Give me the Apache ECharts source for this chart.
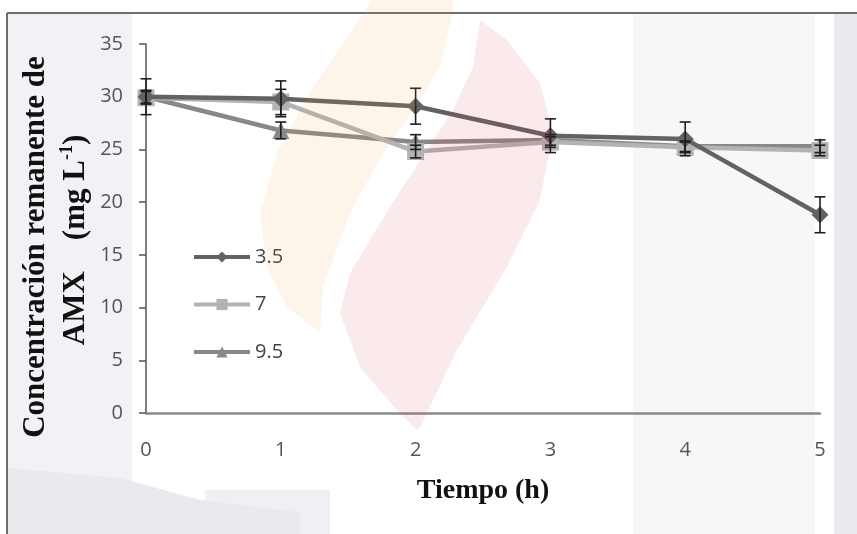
<!DOCTYPE html>
<html>
<head>
<meta charset="utf-8">
<script src="https://cdn.jsdelivr.net/npm/echarts@6/dist/echarts.min.js"></script>
<style>html,body{margin:0;padding:0;background:#fff;}#c{width:857px;height:534px;}</style>
</head>
<body>
<div id="c"></div>
<script>
const times = [0, 1, 2, 3, 4, 5];
const yTicks = [0, 5, 10, 15, 20, 25, 30, 35];
const seriesNames = ['3.5', '7', '9.5'];
const values35 = [30.0, 29.8, 29.1, 26.3, 26.0, 18.8];
const values7 = [29.9, 29.5, 24.8, 25.7, 25.2, 24.9];
const values95 = [30.0, 26.8, 25.7, 25.9, 25.3, 25.3];
const err35 = [1.7, 1.7, 1.7, 1.6, 1.6, 1.7];
const err7 = [0.6, 1.2, 0.6, 0.5, 0.5, 0.5];
const err95 = [0.6, 0.8, 0.7, 0.5, 0.5, 0.6];
const yTitle1 = 'Concentración remanente de';
const yTitle2 = '{a|AMX    (mg L}{s|-1}{a|)}';
const xTitle = 'Tiempo (h)';

const colors = ['#626262', '#b3b3b3', '#888888'];
const symbols = ['diamond', 'rect', 'triangle'];
const vals = [values35, values7, values95];
const errs = [err35, err7, err95];

const chart = echarts.init(document.getElementById('c'));

const lineSeries = seriesNames.map((n, i) => ({
  name: n,
  type: 'line',
  data: times.map((t, k) => [t, vals[i][k]]),
  symbol: symbols[i],
  symbolSize: i === 0 ? 17 : 17,
  lineStyle: { color: colors[i], width: 4.5 },
  itemStyle: { color: colors[i] },
  z: 3 + (2 - i)
}));

const errSeries = seriesNames.map((n, i) => ({
  type: 'custom',
  silent: true,
  z: 10,
  data: times.map((t, k) => [t, vals[i][k] - errs[i][k], vals[i][k] + errs[i][k]]),
  renderItem: function (params, api) {
    const lo = api.coord([api.value(0), api.value(1)]);
    const hi = api.coord([api.value(0), api.value(2)]);
    const w = 5.5;
    const st = { stroke: '#1e1e1e', lineWidth: 1.6 };
    return {
      type: 'group',
      children: [
        { type: 'line', shape: { x1: lo[0], y1: lo[1], x2: hi[0], y2: hi[1] }, style: st },
        { type: 'line', shape: { x1: hi[0] - w, y1: hi[1], x2: hi[0] + w, y2: hi[1] }, style: st },
        { type: 'line', shape: { x1: lo[0] - w, y1: lo[1], x2: lo[0] + w, y2: lo[1] }, style: st }
      ]
    };
  }
}));

const serif = { fontFamily: 'Liberation Serif', fontWeight: 'bold', fill: '#111' };

const option = {
  backgroundColor: '#ffffff',
  animation: false,
  graphic: [
    { type: 'rect', z: -10, silent: true, shape: { x: 8, y: 14, width: 124, height: 520 }, style: { fill: '#f1f2f5' } },
    { type: 'polygon', z: -9, silent: true, shape: { points: [[8,468],[120,478],[200,500],[300,512],[300,534],[8,534]] }, style: { fill: '#e9eaee' } },
    { type: 'rect', z: -10, silent: true, shape: { x: 205, y: 490, width: 125, height: 44 }, style: { fill: '#eff0f3' } },
    { type: 'rect', z: -10, silent: true, shape: { x: 633, y: 14, width: 182, height: 520 }, style: { fill: '#f6f7f9' } },
    { type: 'rect', z: -10, silent: true, shape: { x: 834, y: 14, width: 23, height: 520 }, style: { fill: '#eaebef' } },
    { type: 'polygon', z: 100, silent: true,
      shape: { points: [[372,0],[453,0],[453,13],[440,67],[413,110],[383,153],[350,213],[323,287],[320,333],[287,307],[267,267],[260,213],[277,153],[313,87],[350,33]] },
      style: { fill: '#f5a040', opacity: 0.11 } },
    { type: 'polygon', z: 100, silent: true,
      shape: { points: [[480,20],[507,40],[540,83],[553,133],[540,200],[507,267],[457,350],[420,427],[417,430],[397,410],[360,367],[340,313],[350,273],[390,207],[427,150],[453,110],[473,67]] },
      style: { fill: '#d04050', opacity: 0.11 } },
    { type: 'line', z: 50, silent: true, shape: { x1: 7, y1: 13, x2: 857, y2: 13 }, style: { stroke: '#6e6e6e', lineWidth: 2 } },
    { type: 'line', z: 50, silent: true, shape: { x1: 7, y1: 13, x2: 7, y2: 534 }, style: { stroke: '#6e6e6e', lineWidth: 2 } },
    { type: 'text', z: 60, x: 36, y: 247, rotation: Math.PI / 2,
      style: Object.assign({ text: yTitle1, fontSize: 31, align: 'center', verticalAlign: 'middle' }, serif) },
    { type: 'text', z: 60, x: 76, y: 240, rotation: Math.PI / 2,
      style: { text: yTitle2, align: 'center', verticalAlign: 'middle',
        rich: {
          a: { fontFamily: 'Liberation Serif', fontWeight: 'bold', fontSize: 31, fill: '#111', lineHeight: 36 },
          s: { fontFamily: 'Liberation Serif', fontWeight: 'bold', fontSize: 18, fill: '#111', verticalAlign: 'top', lineHeight: 36, padding: [0, 0, 12, 0] }
        } } }
  ],
  grid: { left: 146, right: 37, top: 44, bottom: 121, containLabel: false },
  legend: {
    orient: 'vertical',
    left: 187,
    top: 242,
    itemGap: 27.5,
    itemWidth: 56,
    itemHeight: 14,
    lineStyle: { width: 4 },
    textStyle: { color: '#444', fontSize: 20, lineHeight: 20, fontFamily: 'Open Sans' },
    data: seriesNames.map(n => ({ name: n }))
  },
  xAxis: {
    type: 'value',
    min: 0, max: 5, interval: 1,
    name: xTitle,
    nameLocation: 'middle',
    nameGap: 64,
    nameTextStyle: { fontFamily: 'Liberation Serif', fontWeight: 'bold', fontSize: 28, color: '#111' },
    axisLine: { show: true, lineStyle: { color: '#8a8a8a', width: 2.5 } },
    axisTick: { show: false },
    splitLine: { show: false },
    axisLabel: { color: '#555', fontSize: 20, fontFamily: 'Open Sans', margin: 27,
      formatter: v => String(times[times.indexOf(v)]) }
  },
  yAxis: {
    type: 'value',
    min: 0, max: 35, interval: 5,
    axisLine: { show: true, lineStyle: { color: '#555', width: 1.5 } },
    axisTick: { show: true, length: 7, lineStyle: { color: '#555', width: 1.5 } },
    splitLine: { show: false },
    axisLabel: { color: '#555', fontSize: 20, fontFamily: 'Open Sans', margin: 23,
      formatter: v => String(yTicks[yTicks.indexOf(v)]) }
  },
  series: lineSeries.concat(errSeries)
};
chart.setOption(option);
</script>
</body>
</html>
